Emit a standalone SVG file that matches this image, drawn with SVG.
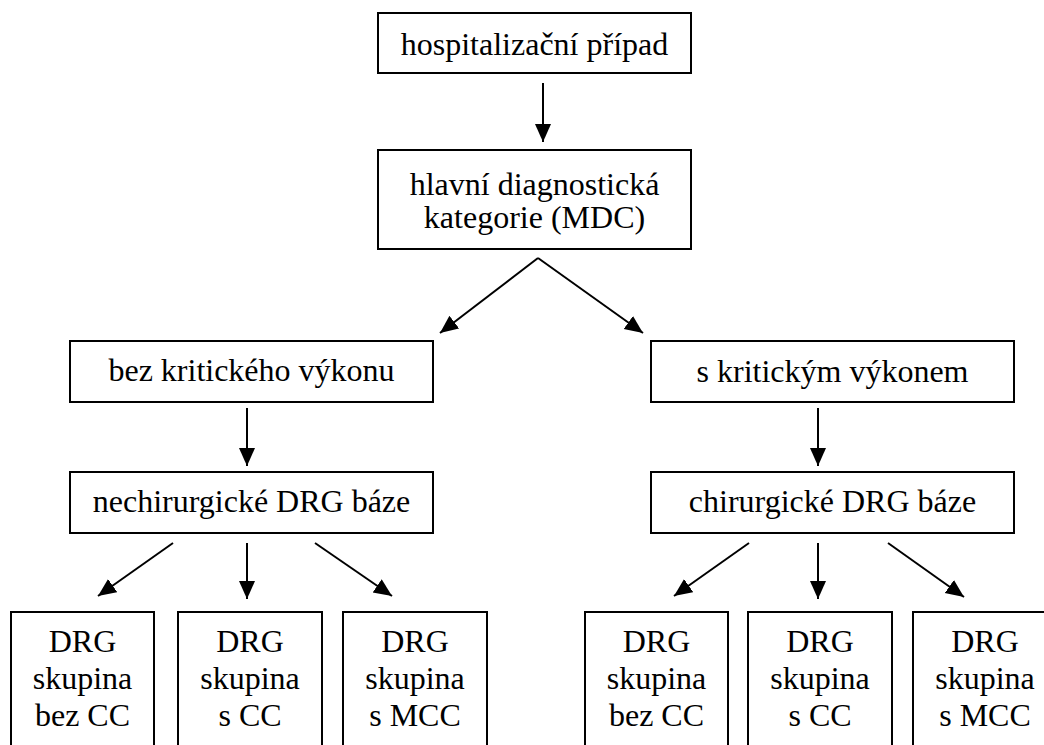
<svg xmlns="http://www.w3.org/2000/svg" width="1044" height="745" viewBox="0 0 1044 745">
<style>
rect{fill:#fff;stroke:#000;stroke-width:2}
.c{fill:none;stroke:#000;stroke-width:2}
</style>
<defs>
<marker id="ah" markerWidth="10" markerHeight="9" refX="9" refY="4" orient="auto">
<path d="M0,0 L9,4 L0,8 Z" fill="#000"/>
</marker>
</defs>
<g id="connectors" class="c">
<line x1="543" y1="83" x2="543" y2="142" marker-end="url(#ah)"/>
<line x1="538" y1="258" x2="440" y2="333" marker-end="url(#ah)"/>
<line x1="538" y1="258" x2="643" y2="333" marker-end="url(#ah)"/>
<line x1="247" y1="408" x2="247" y2="466" marker-end="url(#ah)"/>
<line x1="818" y1="408" x2="818" y2="466" marker-end="url(#ah)"/>
<line x1="173" y1="543" x2="98" y2="596" marker-end="url(#ah)"/>
<line x1="247" y1="543" x2="247" y2="599" marker-end="url(#ah)"/>
<line x1="315" y1="543" x2="392" y2="596" marker-end="url(#ah)"/>
<line x1="749" y1="543" x2="674" y2="596" marker-end="url(#ah)"/>
<line x1="818" y1="543" x2="818" y2="599" marker-end="url(#ah)"/>
<line x1="888" y1="543" x2="964" y2="597" marker-end="url(#ah)"/>
</g>
<g font-family="Liberation Serif, Times New Roman, serif" font-size="32" fill="#000" text-anchor="middle">
<g id="n-pripad">
<rect x="378" y="13" width="313" height="60"/>
<text x="534.5" y="55">hospitalizační případ</text>
</g>
<g id="n-mdc">
<rect x="378" y="150" width="313" height="99"/>
<text x="534.5" y="194.5">hlavní diagnostická</text>
<text x="534.5" y="227.5">kategorie (MDC)</text>
</g>
<g id="n-bez">
<rect x="70" y="341" width="363" height="61"/>
<text x="251.5" y="381">bez kritického výkonu</text>
</g>
<g id="n-s">
<rect x="651" y="341" width="363" height="61"/>
<text x="832.5" y="381.5">s kritickým výkonem</text>
</g>
<g id="n-nechir">
<rect x="70" y="472" width="363" height="61"/>
<text x="251.5" y="512">nechirurgické DRG báze</text>
</g>
<g id="n-chir">
<rect x="651" y="472" width="363" height="61"/>
<text x="832.5" y="511.5">chirurgické DRG báze</text>
</g>
<g id="n-l1">
<rect x="11" y="612" width="143" height="160"/>
<text x="82.5" y="652">DRG</text><text x="82.5" y="689">skupina</text><text x="82.5" y="726">bez CC</text>
</g>
<g id="n-l2">
<rect x="178" y="612" width="144" height="160"/>
<text x="250" y="652">DRG</text><text x="250" y="689">skupina</text><text x="250" y="726">s CC</text>
</g>
<g id="n-l3">
<rect x="343" y="612" width="144" height="160"/>
<text x="415" y="652">DRG</text><text x="415" y="689">skupina</text><text x="415" y="726">s MCC</text>
</g>
<g id="n-r1">
<rect x="585" y="612" width="143" height="160"/>
<text x="656.5" y="652">DRG</text><text x="656.5" y="689">skupina</text><text x="656.5" y="726">bez CC</text>
</g>
<g id="n-r2">
<rect x="748" y="612" width="144" height="160"/>
<text x="820" y="652">DRG</text><text x="820" y="689">skupina</text><text x="820" y="726">s CC</text>
</g>
<g id="n-r3">
<rect x="913" y="612" width="144" height="160"/>
<text x="985" y="652">DRG</text><text x="985" y="689">skupina</text><text x="985" y="726">s MCC</text>
</g>
</g>
</svg>
